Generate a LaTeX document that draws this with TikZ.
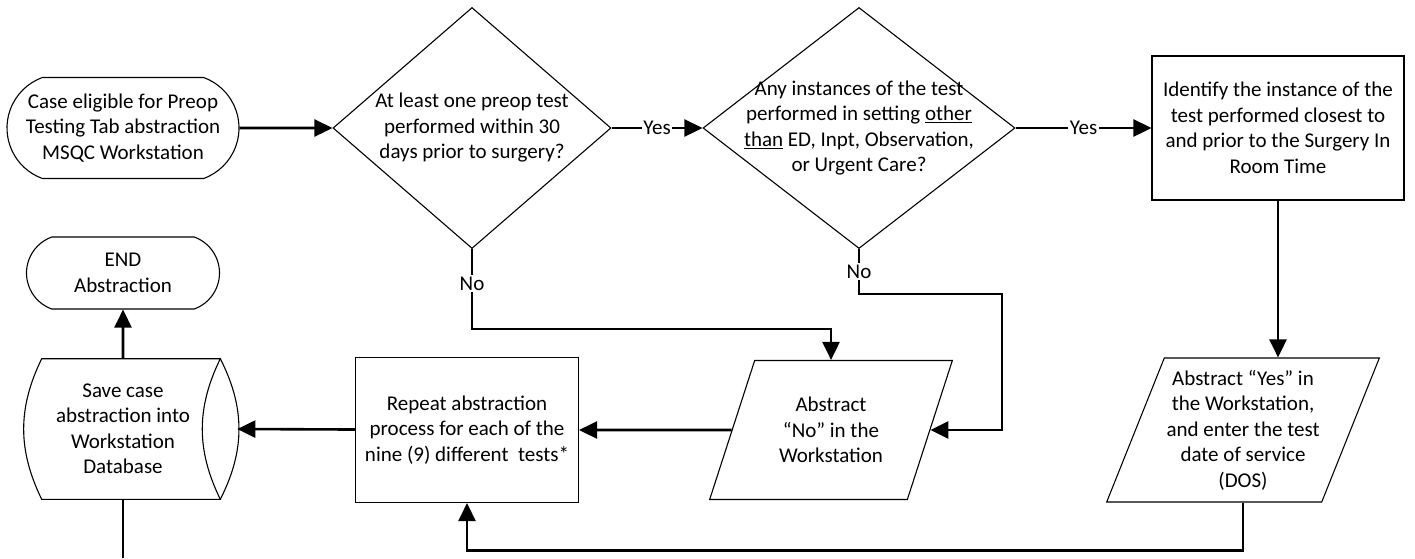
\documentclass[tikz,border=0pt]{standalone}
\usepackage{fontspec}
\setmainfont{Carlito}
\usetikzlibrary{shapes.geometric,shapes.misc,arrows.meta}

\begin{document}
\begin{tikzpicture}[x=1pt,y=-1pt,>={Triangle[length=18pt,width=17pt]},line width=2.6pt,font=\fontsize{21}{25.5}\selectfont]
\tikzstyle{terminal}=[draw,rounded rectangle,line width=1.1pt,align=center,inner sep=0pt]
\tikzstyle{decision}=[draw,diamond,line width=1.1pt,inner sep=0pt]
\tikzstyle{process}=[draw,rectangle,line width=1.1pt,align=center,inner sep=0pt]
\tikzstyle{io}=[draw,trapezium,trapezium left angle=65,trapezium right angle=115,trapezium stretches=true,line width=1.1pt,align=center,inner sep=0pt]
\tikzstyle{answer}=[fill=white,inner sep=1.5pt]

\useasboundingbox (0,0) rectangle (1415,558);

% top row
\node[terminal,rounded rectangle arc length=140,minimum width=232,minimum height=101] (start) at (123,128) {Case eligible for Preop\\Testing Tab abstraction\\MSQC Workstation};
\node[decision,minimum width=278,minimum height=241,label={[align=center]center:At least one preop test\\performed within 30\\days prior to surgery?}] (within) at (472,128) {};
\node[decision,minimum width=312,minimum height=241,label={[align=center]center:Any instances of the test\\performed in setting \underline{other}\\\underline{than} ED, Inpt, Observation,\\or Urgent Care?}] (setting) at (859,128) {};
\node[process,minimum width=252,minimum height=144] (identify) at (1278,128) {Identify the instance of the\\test performed closest to\\and prior to the Surgery In\\Room Time};

% bottom row
\node[io,minimum width=273,minimum height=144] (absyes) at (1243,430) {Abstract “Yes” in\\the Workstation,\\and enter the test\\date of service\\(DOS)};
\node[io,minimum width=243,minimum height=139] (absno) at (831,430) {Abstract\\“No” in the\\Workstation};
\node[process,minimum width=223,minimum height=145] (repeat) at (467,430) {Repeat abstraction\\process for each of the\\nine (9) different~ tests*};
\node[minimum width=226,minimum height=138,inner sep=0pt,align=center] (save) at (123,429) {Save case\\abstraction into\\Workstation\\Database};
\node[terminal,rounded rectangle arc length=140,minimum width=193,minimum height=72] (stop) at (123,273) {END\\Abstraction};
\coordinate (tail) at (123,558);

% stored data outline
\draw[line width=1.1pt] ([xshift=33pt]save.north west) -- ([xshift=-17pt]save.north east) to[bend right=26] ([xshift=-17pt]save.south east) -- ([xshift=33pt]save.south west) to[bend left=26] ([xshift=33pt]save.north west);
\draw[line width=1.1pt] ([xshift=-17pt]save.north east) to[bend left=27] ([xshift=-17pt]save.south east);

% connectors
\draw[->] (start) -- (within);
\draw[->] (within) -- node[answer]{Yes} (setting);
\draw[->] (setting) -- node[answer]{Yes} (identify);
\draw[->] (within.south) -- node[answer,pos=0.43]{No} ++(0,80) -| (absno.north);
\draw[->] (setting.south) -- node[answer]{No} ++(0,45) -- ++(143,0) |- (absno.east);
\draw[->] (identify) -- (identify.south |- absyes.north);
\draw[->] (absyes.south) -- ++(0,48) -| (repeat.south);
\draw[->] (absno) -- (repeat);
\draw[->] (repeat) -- (save.east);
\draw[->] (save) -- (stop);
\draw (save) -- (tail);
\end{tikzpicture}
\end{document}
